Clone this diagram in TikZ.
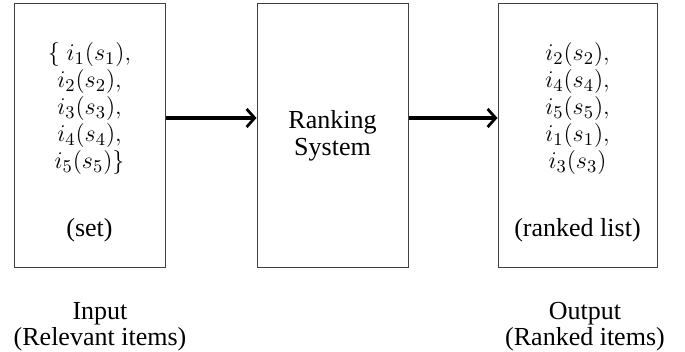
\documentclass[tikz,border=0pt]{standalone}
\usepackage{fontspec}
\setmainfont{Liberation Serif}
\usetikzlibrary{arrows.meta}
\begin{document}
\begin{tikzpicture}[x=1pt,y=1pt,
    box/.style={draw=black!75,line width=0.5pt,minimum width=75.5pt,
      minimum height=132pt,align=center,inner sep=0pt,
      font=\fontsize{13}{13.5}\selectfont},
    items/.style={align=center,inner sep=0pt,
      font=\fontsize{13}{13.5}\selectfont},
    caption/.style={align=center,inner sep=0pt,font=\fontsize{13}{13}\selectfont},
    flow/.style={-{Straight Barb[length=4pt,width=9pt,line width=1.4pt]},line width=1.6pt}]
  \useasboundingbox (0,0) rectangle (342.5,176);

  %%%%%%%%%%%%%%%%%%%%%%%%%%%%%%%%%%%%%%%%%%%%%%%%%%%%%%%%%%%%%%%%%%%%%%%%%%%
  %%%%  Boxes
  \node[box] (input) at (44.75,108) {};
  \node[box] (system) at (166.25,108) {Ranking\\ System};
  \node[box,minimum width=79.5pt] (output) at (288.75,108) {};

  %%%%  Box contents
  \node[items] (inset) at ([yshift=-3.25pt]input.center)
    {$\{\; i_1(s_1),$\\ $i_2(s_2),$\\ $i_3(s_3),$\\ $i_4(s_4),$\\
     $i_5(s_5)\}$\\[20.5pt] (set)};
  \node[items] (outlist) at ([yshift=-3.25pt]output.center)
    {$i_2(s_2),$\\ $i_4(s_4),$\\ $i_5(s_5),$\\ $i_1(s_1),$\\
     $i_3(s_3)$\\[20.5pt] (ranked list)};

  %%%%%%%%%%%%%%%%%%%%%%%%%%%%%%%%%%%%%%%%%%%%%%%%%%%%%%%%%%%%%%%%%%%%%%%%%%%
  %%%%  Arrows
  \draw[flow] ([yshift=9pt]input.east) -- ([yshift=9pt]system.west);
  \draw[flow] ([yshift=9pt]system.east) -- ([yshift=9pt]output.west);

  %%%%%%%%%%%%%%%%%%%%%%%%%%%%%%%%%%%%%%%%%%%%%%%%%%%%%%%%%%%%%%%%%%%%%%%%%%%
  %%%%  Captions
  \node[caption] (inlabel) at (50,12.5) {Input\\ (Relevant items)};
  \node[caption] (outlabel) at (292.5,12.5) {Output\\ (Ranked items)};
\end{tikzpicture}
\end{document}
